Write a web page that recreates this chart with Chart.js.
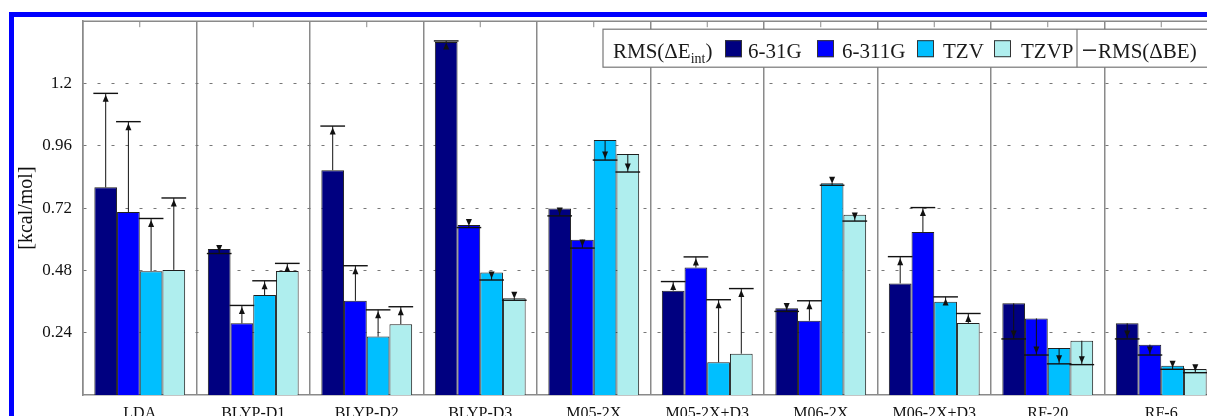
<!DOCTYPE html>
<html lang="en">
<head>
    <meta charset="UTF-8">
    <title>RMS errors by functional and basis set</title>
    <script src="https://cdn.jsdelivr.net/npm/chart.js"></script>
    <style>
        body {
            margin: 0;
            overflow: hidden;
            background: #fff;
        }

        #wrap {
            position: absolute;
            left: 0;
            top: 0;
            width: 1240px;
            height: 440px;
        }

        #frame {
            position: absolute;
            left: 9px;
            top: 12px;
            width: 1300px;
            height: 500px;
            border: 5px solid #0000ff;
            pointer-events: none;
        }
    </style>
</head>
<body>
    <div id="wrap"><canvas id="chart" width="1240" height="440"></canvas></div>
    <div id="frame"></div>

    <script>
        // functionals on the x axis
        const categories = ['LDA', 'BLYP-D1', 'BLYP-D2', 'BLYP-D3', 'M05-2X', 'M05-2X+D3', 'M06-2X', 'M06-2X+D3', 'RF-20', 'RF-6'];
        const basisSets = ['6-31G', '6-311G', 'TZV', 'TZVP'];

        // RMS(dE_int) - the bars
        const eint631G = [0.800, 0.562, 0.866, 1.360, 0.718, 0.402, 0.334, 0.430, 0.353, 0.276];
        const eint6311G = [0.705, 0.276, 0.363, 0.655, 0.598, 0.491, 0.286, 0.628, 0.295, 0.194];
        const eintTZV = [0.477, 0.385, 0.225, 0.472, 0.982, 0.126, 0.816, 0.359, 0.181, 0.113];
        const eintTZVP = [0.482, 0.478, 0.273, 0.373, 0.928, 0.159, 0.694, 0.277, 0.209, 0.100];

        // RMS(dBE) - the arrow markers
        const be631G = [1.162, 0.545, 1.036, 1.364, 0.690, 0.437, 0.322, 0.533, 0.216, 0.216];
        const be6311G = [1.053, 0.345, 0.498, 0.645, 0.566, 0.532, 0.363, 0.722, 0.154, 0.154];
        const beTZV = [0.680, 0.440, 0.328, 0.443, 0.905, 0.367, 0.808, 0.378, 0.120, 0.099];
        const beTZVP = [0.759, 0.507, 0.340, 0.365, 0.859, 0.410, 0.670, 0.314, 0.117, 0.086];

        const yTickValues = [0.24, 0.48, 0.72, 0.96, 1.2];
        const yTickLabels = ['0.24', '0.48', '0.72', '0.96', '1.2'];

        const colors = ['#000080', '#0000ff', '#00bfff', '#afeeee'];
        const eintSeries = [eint631G, eint6311G, eintTZV, eintTZVP];
        const beSeries = [be631G, be6311G, beTZV, beTZVP];

        const serif = '"Liberation Serif", "Times New Roman", serif';
        const gridGrey = '#8a8a8a';

        // arrows from the bar top to the RMS(dBE) level
        const rmsMarks = {
            id: 'rmsMarks',
            afterDatasetsDraw(chart) {
                const ctx = chart.ctx;
                const y = chart.scales.y;
                ctx.save();
                ctx.strokeStyle = '#111';
                ctx.fillStyle = '#111';
                beSeries.forEach((series, i) => {
                    const meta = chart.getDatasetMeta(i);
                    meta.data.forEach((bar, j) => {
                        const top = bar.y;
                        const ey = y.getPixelForValue(series[j]);
                        const half = bar.width / 2 + 1;
                        const dir = ey >= top ? 1 : -1;

                        ctx.lineWidth = 1;
                        ctx.beginPath();
                        ctx.moveTo(bar.x, top);
                        ctx.lineTo(bar.x, ey);
                        ctx.stroke();

                        ctx.lineWidth = 1.4;
                        ctx.beginPath();
                        ctx.moveTo(bar.x - half, ey);
                        ctx.lineTo(bar.x + half, ey);
                        ctx.stroke();

                        const tip = ey - dir * 1.5;
                        ctx.beginPath();
                        ctx.moveTo(bar.x, tip);
                        ctx.lineTo(bar.x - 3, tip - dir * 7);
                        ctx.lineTo(bar.x + 3, tip - dir * 7);
                        ctx.closePath();
                        ctx.fill();
                    });
                });
                ctx.restore();
            }
        };

        // top frame line, top ticks and the boxed legend
        const frameAndLegend = {
            id: 'frameAndLegend',
            afterDraw(chart) {
                const ctx = chart.ctx;
                const ca = chart.chartArea;
                const x = chart.scales.x;
                ctx.save();

                ctx.strokeStyle = gridGrey;
                ctx.lineWidth = 1.5;
                ctx.beginPath();
                ctx.moveTo(ca.left, ca.top);
                ctx.lineTo(ca.right, ca.top);
                ctx.stroke();

                ctx.lineWidth = 1;
                categories.forEach((c, i) => {
                    const px = x.getPixelForTick(i);
                    ctx.beginPath();
                    ctx.moveTo(px, ca.top);
                    ctx.lineTo(px, ca.top + 6);
                    ctx.stroke();
                });

                // legend box
                const L = ca.left, T = ca.top;
                const boxL = L + 520, boxT = T + 8, boxR = L + 1130, boxB = T + 46;
                ctx.fillStyle = '#fff';
                ctx.fillRect(boxL, boxT, boxR - boxL, boxB - boxT);
                ctx.strokeStyle = '#777';
                ctx.lineWidth = 1.2;
                ctx.strokeRect(boxL, boxT, boxR - boxL, boxB - boxT);
                ctx.beginPath();
                ctx.moveTo(L + 994, boxT);
                ctx.lineTo(L + 994, boxB);
                ctx.stroke();

                const base = T + 37;
                ctx.fillStyle = '#1a1a1a';
                ctx.textBaseline = 'alphabetic';
                ctx.textAlign = 'left';
                ctx.font = '21px ' + serif;
                let tx = L + 530;
                ctx.fillText('RMS(\u0394E', tx, base);
                tx += ctx.measureText('RMS(\u0394E').width;
                ctx.font = '14px ' + serif;
                ctx.fillText('int', tx, base + 5);
                tx += ctx.measureText('int').width;
                ctx.font = '21px ' + serif;
                ctx.fillText(')', tx, base);

                const squareX = [642, 734, 834, 911];
                const textX = [665, 759, 860, 938];
                basisSets.forEach((name, i) => {
                    ctx.fillStyle = colors[i];
                    ctx.fillRect(L + squareX[i], T + 19, 17, 17);
                    ctx.strokeStyle = '#333';
                    ctx.lineWidth = 1;
                    ctx.strokeRect(L + squareX[i] + 0.5, T + 19.5, 16, 16);
                    ctx.fillStyle = '#1a1a1a';
                    ctx.fillText(name, L + textX[i], base);
                });

                ctx.strokeStyle = '#1a1a1a';
                ctx.lineWidth = 1.5;
                ctx.beginPath();
                ctx.moveTo(L + 1000, T + 29);
                ctx.lineTo(L + 1013, T + 29);
                ctx.stroke();
                ctx.fillText('RMS(\u0394BE)', L + 1015, base);

                ctx.restore();
            }
        };

        new Chart(document.getElementById('chart').getContext('2d'), {
            type: 'bar',
            data: {
                labels: categories,
                datasets: basisSets.map((name, i) => ({
                    label: name,
                    data: eintSeries[i],
                    backgroundColor: colors[i],
                    borderColor: '#1f1f1f',
                    borderWidth: 1,
                    categoryPercentage: 0.8,
                    barPercentage: 1.0
                }))
            },
            options: {
                responsive: false,
                devicePixelRatio: 1,
                animation: false,
                layout: { padding: { top: 20, right: 22, left: 0, bottom: 0 } },
                plugins: {
                    legend: { display: false },
                    tooltip: { enabled: false }
                },
                scales: {
                    x: {
                        grid: { offset: true, color: gridGrey, lineWidth: 1.5, drawTicks: false },
                        border: { color: gridGrey, width: 1.5 },
                        ticks: {
                            font: { family: serif, size: 16 },
                            color: '#111',
                            padding: 9,
                            maxRotation: 0,
                            autoSkip: false
                        },
                        afterFit: s => { s.height = 45; }
                    },
                    y: {
                        min: 0,
                        max: 1.44,
                        afterBuildTicks: s => { s.ticks = yTickValues.map(v => ({ value: v })); },
                        grid: { color: '#777', lineWidth: 1, drawTicks: false },
                        border: { color: gridGrey, width: 1.5, dash: [3, 11] },
                        ticks: {
                            font: { family: serif, size: 17 },
                            color: '#111',
                            padding: 11,
                            callback: (v, i) => yTickLabels[i]
                        },
                        title: {
                            display: true,
                            text: '[kcal/mol]',
                            font: { family: serif, size: 20 },
                            color: '#111',
                            padding: { top: 15, bottom: 0 }
                        },
                        afterFit: s => { s.width = 83; }
                    }
                }
            },
            plugins: [rmsMarks, frameAndLegend]
        });
    </script>
</body>
</html>
